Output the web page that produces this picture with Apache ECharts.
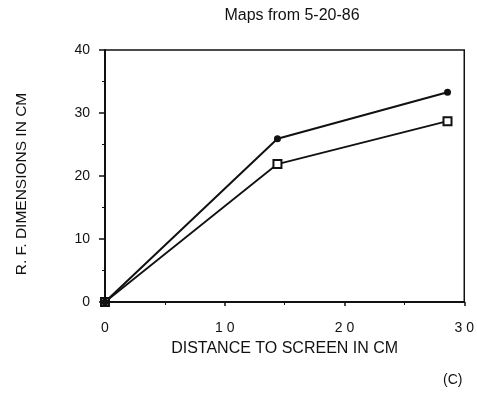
<!DOCTYPE html>
<html>
<head>
<meta charset="utf-8">
<script src="https://cdn.jsdelivr.net/npm/echarts@6/dist/echarts.min.js"></script>
<style>
  html, body { margin: 0; padding: 0; background: #fff; }
  #chart { width: 477px; height: 395px; }
</style>
</head>
<body>
<div id="chart"></div>
<script>
// Distance to screen (cm) and receptive-field dimensions (cm)
const distance = [0, 14.4, 28.6];
const filledSeries = [0, 25.9, 33.3];
const openSeries = [0, 21.9, 28.7];
const xTicks = [0, 10, 20, 30];
const yTicks = [0, 10, 20, 30, 40];

const font = '"Liberation Sans", Arial, sans-serif';

const chart = echarts.init(document.getElementById('chart'), null, { renderer: 'canvas' });

chart.setOption({
  animation: false,
  backgroundColor: '#fff',
  title: {
    text: 'Maps from 5-20-86',
    left: 287,
    top: 3,
    textAlign: 'center',
    textStyle: { fontFamily: font, fontSize: 16, fontWeight: 'normal', color: '#111' }
  },
  graphic: [
    {
      type: 'text',
      left: 443,
      top: 373,
      style: { text: '(C)', font: '14px ' + font, fill: '#111' }
    },
    {
      type: 'text',
      x: 22,
      y: 184,
      rotation: Math.PI / 2,
      style: {
        text: 'R. F. DIMENSIONS IN CM',
        font: '15.5px ' + font,
        fill: '#111',
        align: 'center',
        verticalAlign: 'middle'
      }
    }
  ],
  grid: {
    left: 105, right: 11, top: 50, bottom: 93,
    show: true, borderColor: '#111', borderWidth: 1.5, backgroundColor: 'transparent'
  },
  xAxis: {
    type: 'value',
    min: 0, max: 30, interval: 10,
    name: 'DISTANCE TO SCREEN IN CM',
    nameLocation: 'middle',
    nameGap: 39,
    nameTextStyle: { fontFamily: font, fontSize: 16, color: '#111' },
    axisLine: { lineStyle: { color: '#111', width: 2 } },
    axisTick: { show: true, inside: false, length: 4, lineStyle: { color: '#111', width: 1.5 } },
    minorTick: { show: true, splitNumber: 2, length: 3, lineStyle: { color: '#111', width: 1 } },
    axisLabel: {
      fontFamily: font, fontSize: 14, color: '#111', margin: 19,
      formatter: v => xTicks.includes(v) ? String(v).split('').join(' ') : ''
    },
    splitLine: { show: false }
  },
  yAxis: {
    type: 'value',
    min: 0, max: 40, interval: 10,
    axisLine: { lineStyle: { color: '#111', width: 2 } },
    axisTick: { show: true, length: 6, lineStyle: { color: '#111', width: 1.5 } },
    minorTick: { show: true, splitNumber: 2, length: 3, lineStyle: { color: '#111', width: 1 } },
    axisLabel: {
      fontFamily: font, fontSize: 14, color: '#111', margin: 15,
      formatter: v => yTicks.includes(v) ? String(v) : ''
    },
    splitLine: { show: false }
  },
  series: [
    {
      type: 'line',
      data: distance.map((d, i) => [d, openSeries[i]]),
      symbol: 'rect',
      symbolSize: 8,
      itemStyle: { color: '#fff', borderColor: '#111', borderWidth: 2 },
      lineStyle: { color: '#111', width: 1.8 }
    },
    {
      type: 'line',
      data: distance.map((d, i) => [d, filledSeries[i]]),
      symbol: 'circle',
      symbolSize: 7,
      itemStyle: { color: '#111' },
      lineStyle: { color: '#111', width: 2 }
    }
  ]
});
</script>
</body>
</html>
